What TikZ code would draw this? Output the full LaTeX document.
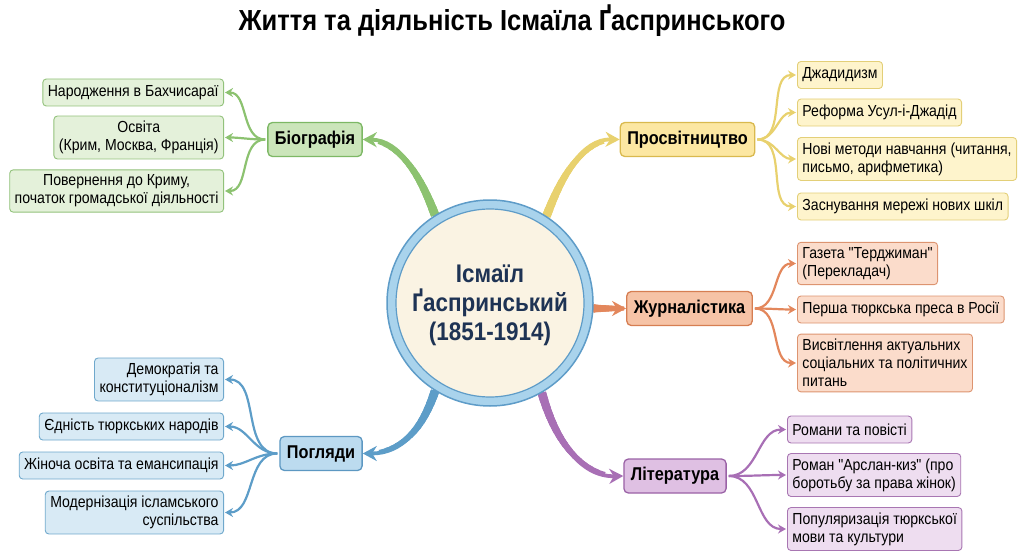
\documentclass[tikz,border=0pt]{standalone}
\usepackage{fontspec}
\setmainfont{Liberation Sans}[FakeStretch=0.88,Ligatures=TeXOff]
\usetikzlibrary{arrows.meta}
\pgfdeclarelayer{bg}
\pgfsetlayers{bg,main}
\definecolor{gLeaf}{HTML}{E4F1DA}\definecolor{gDraw}{HTML}{92C27B}\definecolor{gMain}{HTML}{CBE5BA}\definecolor{gMainD}{HTML}{7DB865}\definecolor{gLine}{HTML}{8CC270}
\definecolor{yLeaf}{HTML}{FEF4CC}\definecolor{yDraw}{HTML}{E3CF78}\definecolor{yMain}{HTML}{FCE7A2}\definecolor{yMainD}{HTML}{D9B94E}\definecolor{yLine}{HTML}{E8D16E}
\definecolor{oLeaf}{HTML}{FBDCCB}\definecolor{oDraw}{HTML}{DD9470}\definecolor{oMain}{HTML}{F6C3A6}\definecolor{oMainD}{HTML}{D67E52}\definecolor{oLine}{HTML}{E3875C}
\definecolor{pLeaf}{HTML}{EEDDF0}\definecolor{pDraw}{HTML}{A876B2}\definecolor{pMain}{HTML}{DFC0E3}\definecolor{pMainD}{HTML}{9A62A6}\definecolor{pLine}{HTML}{A86FB5}
\definecolor{bLeaf}{HTML}{D8EAF5}\definecolor{bDraw}{HTML}{6FA8CC}\definecolor{bMain}{HTML}{BCDBEF}\definecolor{bMainD}{HTML}{5D98C2}\definecolor{bLine}{HTML}{5D9DC8}
\definecolor{ringFill}{HTML}{A9D3EC}\definecolor{ringDraw}{HTML}{5E9CC8}\definecolor{cream}{HTML}{FAF3E3}\definecolor{navy}{HTML}{1E3354}
% part of a Bezier curve from time 0 to #1, stroked with width #2 and colour #3
\newcommand\taperpart[7]{\begin{pgfscope}\pgfsetlinewidth{#2}\pgfsetstrokecolor{#3}%
  \pgfpathcurvebetweentime{0}{#1}{#4}{#5}{#6}{#7}\pgfusepath{stroke}\end{pgfscope}}
\newcommand\taperunder[5]{%
  \foreach \kk in {1,...,14}{%
    \pgfmathsetmacro\tparam{0.85*\kk/14}%
    \pgfmathsetmacro\wparam{8.6-(\kk-1)*0.35}%
    \taperpart{\tparam}{\wparam pt}{#1}{#2}{#3}{#4}{#5}}}
\begin{document}
\begin{tikzpicture}[x=1pt,y=-1pt,
  leaf/.style={draw, rounded corners=3.5pt, line width=0.9pt, inner xsep=5pt, inner ysep=5pt, minimum height=27pt, font=\fontsize{16}{18}\selectfont},
  mainbox/.style={draw, rounded corners=4.5pt, line width=1.3pt, inner xsep=7pt, minimum height=34pt, font=\fontsize{18.5}{21}\selectfont\bfseries},
  gl/.style={leaf, fill=gLeaf, draw=gDraw, align=center, anchor=east},
  yl/.style={leaf, fill=yLeaf, draw=yDraw, align=left, anchor=west},
  ol/.style={leaf, fill=oLeaf, draw=oDraw, align=left, anchor=west},
  pl/.style={leaf, fill=pLeaf, draw=pDraw, align=left, anchor=west},
  bl/.style={leaf, fill=bLeaf, draw=bDraw, align=right, anchor=east},
  leafarrow/.style={line width=2.2pt, -{Stealth[length=8pt,width=9pt]}, shorten >=1pt},
  bigarrow/.style={line width=3.8pt, -{Stealth[length=14pt,width=15pt]}}
]
\useasboundingbox (0,0) rectangle (1024,559);

\node[font=\fontsize{29}{32}\selectfont\bfseries] (title) at (512,21) {Життя та діяльність Ісмаїла Ґаспринського};

% hub
\node[circle, minimum size=206pt, inner sep=0pt, fill=ringFill, draw=ringDraw, line width=1.5pt] (hub) at (490,303) {};
\node[circle, minimum size=188pt, inner sep=0pt, fill=cream, draw=ringDraw, line width=1.2pt] (hubin) at (hub.center) {};
\node[font=\fontsize{25.5}{29}\selectfont\bfseries, text=navy, align=center] (hubtext) at (490,305) {Ісмаїл\\Ґаспринський\\(1851-1914)};

% main nodes
\node[mainbox, fill=gMain, draw=gMainD] (bio) at (315,139.5) {Біографія};
\node[mainbox, fill=yMain, draw=yMainD] (pros) at (687.5,139.5) {Просвітництво};
\node[mainbox, fill=oMain, draw=oMainD] (jour) at (689.5,308.5) {Журналістика};
\node[mainbox, fill=pMain, draw=pMainD] (lit) at (675,476) {Література};
\node[mainbox, fill=bMain, draw=bMainD] (pog) at (321,453.5) {Погляди};

% leaves
\node[gl] (g1) at (224,92.5) {Народження в Бахчисараї};
\node[gl] (g2) at (224,137.5) {Освіта\\(Крим, Москва, Франція)};
\node[gl] (g3) at (224,191) {Повернення до Криму,\\початок громадської діяльності};

\node[yl] (y1) at (797,75) {Джадидизм};
\node[yl] (y2) at (797,112.5) {Реформа Усул-і-Джадід};
\node[yl] (y3) at (797,159) {Нові методи навчання (читання,\\письмо, арифметика)};
\node[yl] (y4) at (797,206.5) {Заснування мережі нових шкіл};

\node[ol] (o1) at (797,263.5) {Газета "Терджиман"\\(Перекладач)};
\node[ol] (o2) at (797,309.5) {Перша тюркська преса в Росії};
\node[ol] (o3) at (797,363) {Висвітлення актуальних\\соціальних та політичних\\питань};

\node[pl] (p1) at (787,429.5) {Романи та повісті};
\node[pl] (p2) at (787,475) {Роман "Арслан-киз" (про\\боротьбу за права жінок)};
\node[pl] (p3) at (787,529) {Популяризація тюркської\\мови та культури};

\node[bl] (b1) at (224,379.5) {Демократія та\\конституціоналізм};
\node[bl] (b2) at (224,426.5) {Єдність тюркських народів};
\node[bl] (b3) at (224,465.5) {Жіноча освіта та емансипація};
\node[bl] (b4) at (224,512.5) {Модернізація ісламського\\суспільства};

% leaf connectors
\foreach \t in {g1,g2,g3}{\draw[leafarrow, gLine] ([xshift=-2pt]bio.west) to[out=180,in=0] (\t.east);}
\foreach \t in {y1,y2,y3,y4}{\draw[leafarrow, yLine] ([xshift=2pt]pros.east) to[out=0,in=180] (\t.west);}
\foreach \t in {o1,o2,o3}{\draw[leafarrow, oLine] ([xshift=2pt]jour.east) to[out=0,in=180] (\t.west);}
\foreach \t in {p1,p2,p3}{\draw[leafarrow, pLine] ([xshift=2pt]lit.east) to[out=0,in=180] (\t.west);}
\foreach \t in {b1,b2,b3,b4}{\draw[leafarrow, bLine] ([xshift=-2pt]pog.west) to[out=180,in=0] (\t.east);}

% main connectors (tapered: thick at the hub, thinner towards the arrowhead)
\begin{pgfonlayer}{bg}
\taperunder{gLine}{\pgfpointanchor{hub}{122}}{\pgfpointxy{420}{175}}{\pgfpointxy{400}{140}}{\pgfpointanchor{bio}{east}}
\draw[bigarrow, gLine] (hub.122) .. controls (420,175) and (400,140) .. (bio.east);
\taperunder{yLine}{\pgfpointanchor{hub}{57}}{\pgfpointxy{562}{175}}{\pgfpointxy{582}{139}}{\pgfpointanchor{pros}{west}}
\draw[bigarrow, yLine] (hub.57) .. controls (562,175) and (582,139) .. (pros.west);
\taperunder{oLine}{\pgfpointanchor{hub}{-3}}{\pgfpointanchor{hub}{-3}}{\pgfpointanchor{jour}{west}}{\pgfpointanchor{jour}{west}}
\draw[bigarrow, oLine] (hub.-3) -- (jour.west);
\taperunder{pLine}{\pgfpointanchor{hub}{300}}{\pgfpointxy{555}{440}}{\pgfpointxy{580}{477}}{\pgfpointanchor{lit}{west}}
\draw[bigarrow, pLine] (hub.300) .. controls (555,440) and (580,477) .. (lit.west);
\taperunder{bLine}{\pgfpointanchor{hub}{238}}{\pgfpointxy{422}{430}}{\pgfpointxy{402}{453.5}}{\pgfpointanchor{pog}{east}}
\draw[bigarrow, bLine] (hub.238) .. controls (422,430) and (402,453.5) .. (pog.east);
\end{pgfonlayer}
\end{tikzpicture}
\end{document}
